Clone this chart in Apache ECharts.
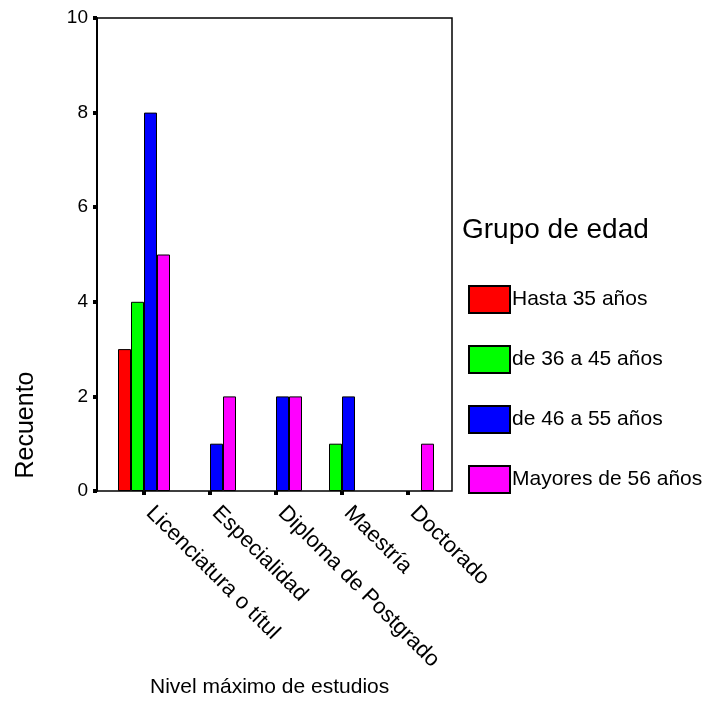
<!DOCTYPE html>
<html>
<head>
<meta charset="utf-8">
<script src="https://cdn.jsdelivr.net/npm/echarts@6/dist/echarts.min.js"></script>
<style>
html,body{margin:0;padding:0;background:#fff;}
#main{width:709px;height:726px;}
</style>
</head>
<body>
<div id="main"></div>
<script>
var categories = ['Licenciatura o títul', 'Especialidad', 'Diploma de Postgrado', 'Maestría', 'Doctorado'];
var seriesNames = ['Hasta 35 años', 'de 36 a 45 años', 'de 46 a 55 años', 'Mayores de 56 años'];
var hasta35 = [3, 0, 0, 0, 0];
var de36a45 = [4, 0, 0, 1, 0];
var de46a55 = [8, 1, 2, 2, 0];
var mayores56 = [5, 2, 2, 0, 1];
var colors = ['#ff0000', '#00ff00', '#0000ff', '#ff00ff'];
var yTicks = [0, 2, 4, 6, 8, 10];

var FONT = 'Liberation Sans, Arial, sans-serif';
var allData = [hasta35, de36a45, de46a55, mayores56];

var chart = echarts.init(document.getElementById('main'), null, {renderer: 'canvas'});

var series = allData.map(function (arr, i) {
  return {
    name: seriesNames[i],
    type: 'bar',
    xAxisIndex: 1,
    yAxisIndex: 1,
    barWidth: 13,
    barGap: '0%',
    itemStyle: {color: colors[i], borderColor: '#000', borderWidth: 1},
    data: arr.map(function (v) { return v === 0 ? '-' : v; })
  };
});

chart.setOption({
  animation: false,
  backgroundColor: '#fff',
  title: {
    text: 'Grupo de edad',
    left: 462, top: 216,
    padding: 0,
    textStyle: {fontFamily: FONT, fontSize: 28, fontWeight: 'normal', color: '#000'}
  },
  legend: {
    orient: 'vertical',
    left: 468, top: 285,
    padding: 0,
    itemWidth: 41, itemHeight: 27,
    itemGap: 31,
    icon: 'rect',
    data: seriesNames,
    textStyle: {fontFamily: FONT, fontSize: 21, color: '#000', padding: [0, 0, 0, -3]}
  },
  grid: [
    {left: 97, top: 18, width: 355, height: 473, show: true, borderColor: '#000', borderWidth: 1.5, backgroundColor: 'transparent'},
    {left: 111, top: 18, width: 330, height: 473}
  ],
  xAxis: [
    {gridIndex: 0, type: 'value', show: false, min: 0, max: 1},
    {
      gridIndex: 1, type: 'category', data: categories,
      axisLine: {show: false},
      axisTick: {show: true, alignWithLabel: true, length: 4, lineStyle: {color: '#000', width: 4}},
      axisLabel: {rotate: -45, margin: 13, padding: [0, 0, 0, 8], interval: 0, fontFamily: FONT, fontSize: 22, color: '#000'}
    }
  ],
  yAxis: [
    {
      gridIndex: 0, type: 'value', min: yTicks[0], max: yTicks[yTicks.length - 1], interval: 2,
      axisLine: {show: true, lineStyle: {color: '#000', width: 2}},
      axisTick: {show: true, length: 4, lineStyle: {color: '#000', width: 4}},
      axisLabel: {margin: 9, fontFamily: FONT, fontSize: 19, color: '#000'},
      splitLine: {show: false}
    },
    {gridIndex: 1, type: 'value', min: 0, max: 10, show: false, splitLine: {show: false}}
  ],
  graphic: [
    {
      type: 'text',
      left: 150, top: 677,
      style: {text: 'Nivel máximo de estudios', font: '21px ' + FONT, fill: '#000'}
    },
    {
      type: 'text',
      x: 26, y: 425,
      rotation: Math.PI / 2,
      style: {text: 'Recuento', font: '25px ' + FONT, fill: '#000', align: 'center', verticalAlign: 'middle'}
    }
  ],
  series: series
});
</script>
</body>
</html>
